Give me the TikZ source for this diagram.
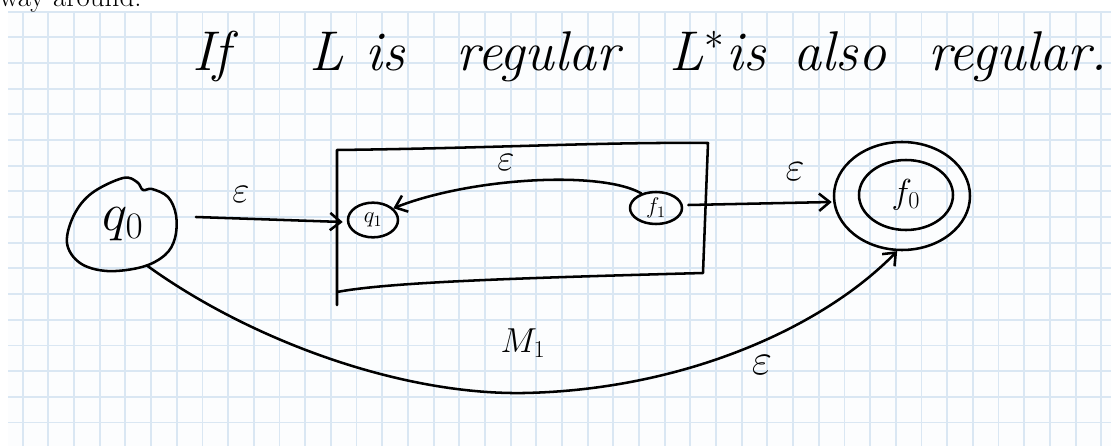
\RequirePackage{fix-cm}
\documentclass[tikz,border=0pt]{standalone}
\usetikzlibrary{shapes.geometric,arrows.meta,calc}
\definecolor{gridc}{RGB}{218,231,243}
\definecolor{paper}{RGB}{252,253,254}
\begin{document}
\begin{tikzpicture}[x=0.75pt,y=-0.75pt,
  ink/.style={line width=1.9pt, line cap=round, line join=round},
  arr/.style={ink, -{Straight Barb[length=8pt,width=13pt]}},
  st/.style={ellipse, inner sep=0pt},
  lab/.style={inner sep=0pt},
  ttl/.style={font=\fontsize{42}{48}\selectfont\itshape, anchor=base, inner sep=0pt}]
\useasboundingbox (0,0) rectangle (1111,446);
\fill[white] (0,0) rectangle (1111,446);
\fill[paper] (8,12) rectangle (1111,446);
\foreach \i in {0,...,42} \draw[gridc, line width=1.4pt] ({22.7+25.68*\i},12) -- ({22.7+25.68*\i},446);
\foreach \j in {0,...,16} \draw[gridc, line width=1.4pt] (8,{11.6+25.68*\j}) -- (1111,{11.6+25.68*\j});

% cut-off previous line
\node[anchor=base west, inner sep=0pt, font=\fontsize{21.7}{26}\selectfont] (prev) at (-1,7) {way around.};

% title
\node[ttl] (t1) at (211,70) {If};
\node[ttl] (t2) at (327,70) {L};
\node[ttl] (t3) at (385,70) {is};
\node[ttl] (t4) at (538,70) {regular};
\node[ttl] (t5) at (697,70) {L$^{*}$};
\node[ttl] (t6) at (746,70) {is};
\node[ttl] (t7) at (840,70) {also};
\node[ttl, anchor=base east] (t8) at (1108,70) {regular.};

% states
\node[st, minimum width=82pt, minimum height=69pt, font=\fontsize{40}{44}\selectfont] (q0) at (123,224) {$q_0$};
\draw[ink] plot[smooth cycle, tension=0.6] coordinates {(123,178) (137,182) (143,190) (152,189) (168,197) (176,215) (175,238) (165,255) (142,267) (107,271) (80,263) (67,243) (74,215) (92,193)};

\node[st, draw, ink, minimum width=37.5pt, minimum height=26pt, font=\fontsize{17}{20}\selectfont] (q1) at (373,220) {$q_1$};
\node[st, draw, ink, minimum width=39pt, minimum height=24pt, font=\fontsize{17}{20}\selectfont] (f1) at (656,208) {$f_1$};
\node[st, draw, ink, minimum width=102pt, minimum height=81pt] (f0) at (902,196) {};
\node[st, draw, ink, minimum width=70.5pt, minimum height=52.5pt, font=\fontsize{26}{30}\selectfont] (f0i) at (906,195) {$f_0$};

% machine box M1
\draw[ink] (337,305) -- (337,150) .. controls (500,148) and (600,142) .. (708,143) -- (703,273) .. controls (520,278) and (390,282) .. (337,292);
\node[lab, font=\fontsize{26}{30}\selectfont] (m1) at (523,343) {$M_1$};

% transitions
\draw[arr] ($(q0.east)+(18,-7)$) -- ($(q1.west)+(-4,2)$);
\node[lab, font=\fontsize{28}{30}\selectfont] (e1) at (241,194) {$\varepsilon$};

\draw[arr] (f1.135) .. controls (600,170) and (470,178) .. (q1.30);
\node[lab, font=\fontsize{28}{30}\selectfont] (e2) at (506,162) {$\varepsilon$};

\draw[arr] ($(f1.east)+(5,-3)$) -- ($(f0.west)+(-1,6)$);
\node[lab, font=\fontsize{31}{34}\selectfont] (e3) at (795,172) {$\varepsilon$};

\coordinate (low) at (524,393);
\draw[arr] (q0.-60) .. controls (250,340) and (400,395) .. (low) .. controls (680,390) and (820,330) .. (f0.-95);
\node[lab, font=\fontsize{33}{36}\selectfont] (e4) at (762,365) {$\varepsilon$};
\end{tikzpicture}
\end{document}
